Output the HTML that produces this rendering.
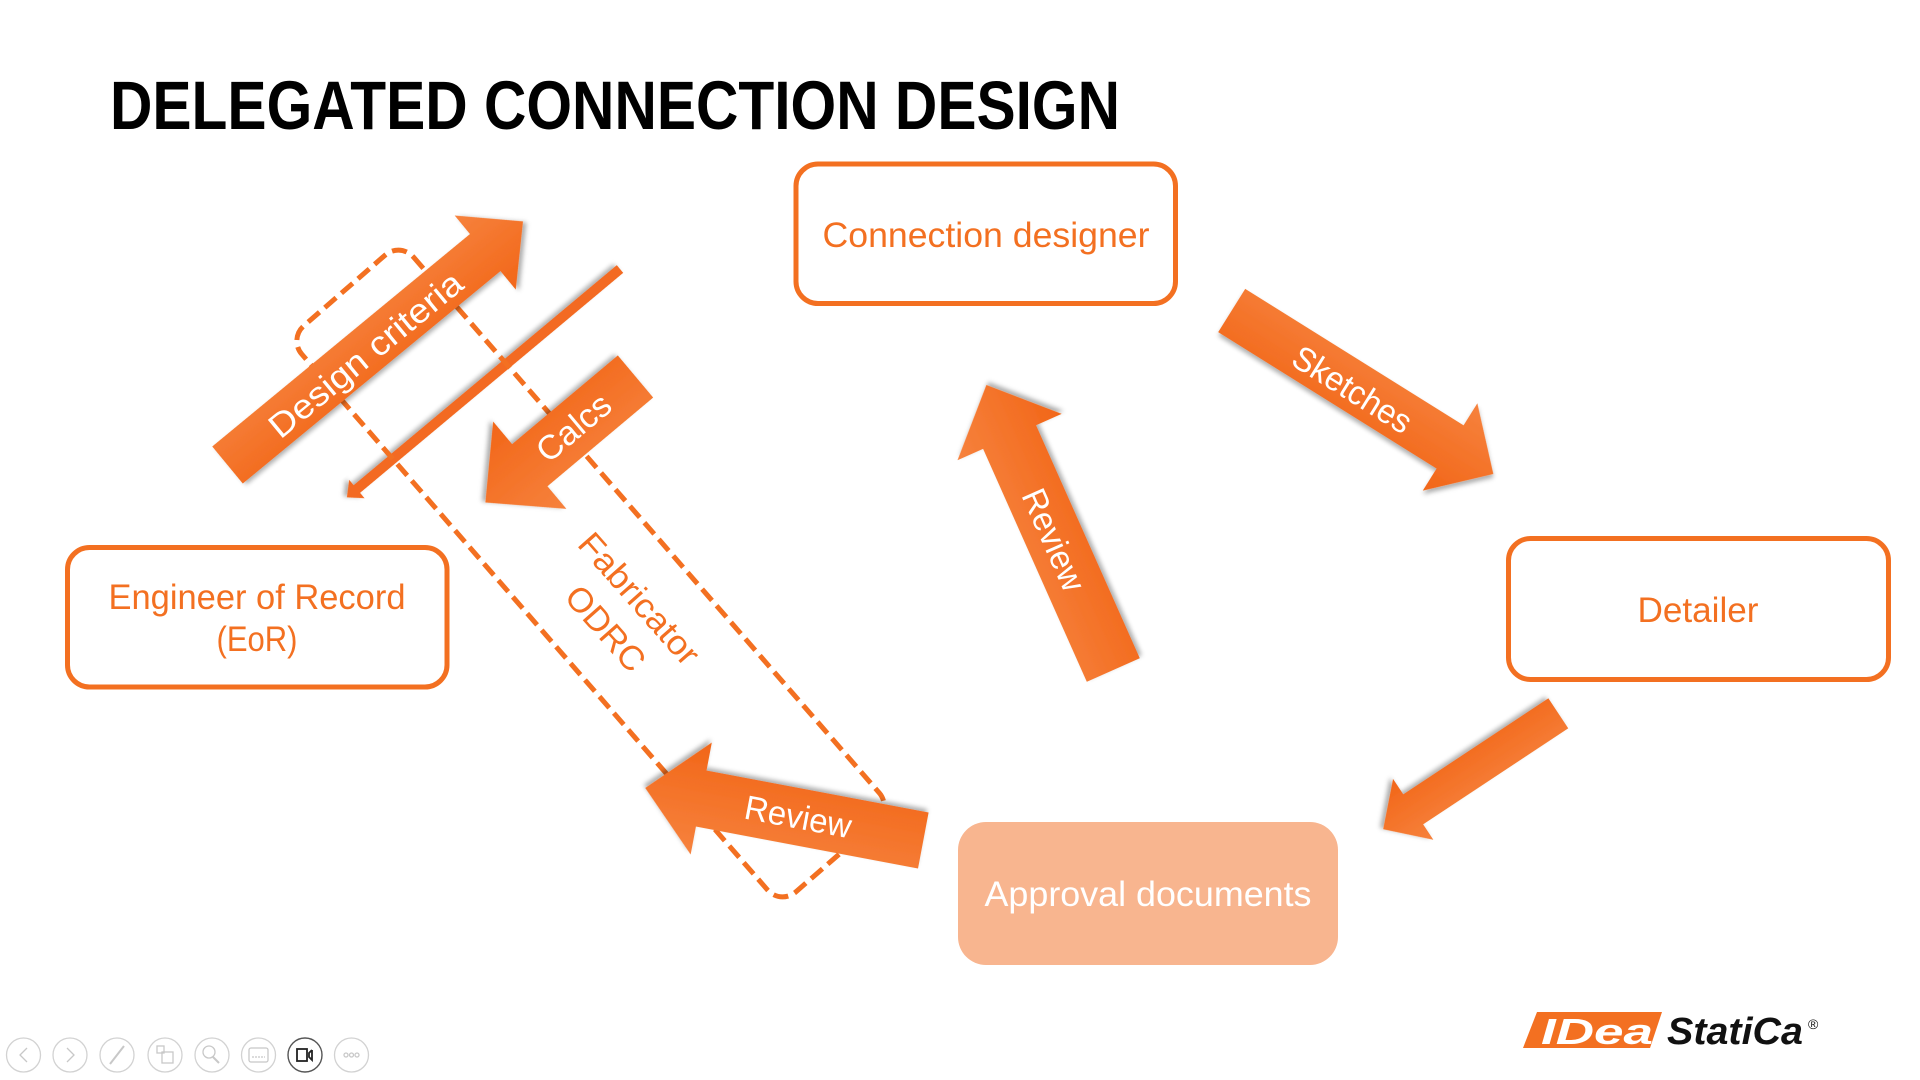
<!DOCTYPE html>
<html>
<head>
<meta charset="utf-8">
<style>
  html,body{margin:0;padding:0;background:#fff;}
  body{width:1920px;height:1080px;overflow:hidden;}
  svg{display:block;}
  text{font-family:"Liberation Sans", sans-serif;}
</style>
</head>
<body>
<svg width="1920" height="1080" viewBox="0 0 1920 1080" xmlns="http://www.w3.org/2000/svg">
  <defs>
    <filter id="sh" x="-20%" y="-20%" width="140%" height="140%">
      <feDropShadow dx="2" dy="3" stdDeviation="2.5" flood-color="#000" flood-opacity="0.32"/>
    </filter>
    <linearGradient id="g1" x1="0" y1="0" x2="0" y2="1">
      <stop offset="0" stop-color="#F6823D"/>
      <stop offset="1" stop-color="#F26618"/>
    </linearGradient>
  </defs>

  <!-- Title -->
  <text x="110" y="129" font-size="69" font-weight="bold" fill="#000" textLength="1010" lengthAdjust="spacingAndGlyphs">DELEGATED CONNECTION DESIGN</text>

  <!-- Boxes -->
  <rect x="796" y="164" width="379.5" height="139.5" rx="22" fill="#fff" stroke="#F37021" stroke-width="5"/>
  <text x="986" y="247" font-size="35" fill="#F37021" text-anchor="middle" textLength="327" lengthAdjust="spacingAndGlyphs">Connection designer</text>

  <rect x="67.5" y="547.5" width="379.5" height="139.5" rx="22" fill="#fff" stroke="#F37021" stroke-width="5"/>
  <text x="257" y="609" font-size="35" fill="#F37021" text-anchor="middle" textLength="297" lengthAdjust="spacingAndGlyphs">Engineer of Record</text>
  <text x="257" y="651" font-size="35" fill="#F37021" text-anchor="middle" textLength="81" lengthAdjust="spacingAndGlyphs">(EoR)</text>

  <rect x="1508.5" y="538.5" width="380" height="141" rx="22" fill="#fff" stroke="#F37021" stroke-width="5"/>
  <text x="1698" y="622" font-size="35" fill="#F37021" text-anchor="middle" textLength="121" lengthAdjust="spacingAndGlyphs">Detailer</text>

  <rect x="958" y="822" width="380" height="143" rx="28" fill="#F8B58F"/>
  <text x="1148" y="906" font-size="35" fill="#fff" text-anchor="middle" textLength="327" lengthAdjust="spacingAndGlyphs">Approval documents</text>

  <!-- Thin arrow (behind) -->
  <g transform="translate(620,269) rotate(140.1)" filter="url(#sh)">
    <polygon points="0,-5 343,-5 343,-12 356,0 343,12 343,5 0,5" fill="#F36B20"/>
  </g>

  <!-- Dashed Fabricator ODRC outline -->
  <rect x="-375" y="-74" width="750" height="148" rx="20" transform="translate(590.5,573.5) rotate(49)" fill="none" stroke="#F37021" stroke-width="5" stroke-dasharray="15 7"/>
  <g transform="translate(623,613) rotate(48.5)" fill="#F37021" font-size="34" text-anchor="middle">
    <text x="0" y="-10" textLength="164" lengthAdjust="spacingAndGlyphs">Fabricator</text>
    <text x="0" y="35" textLength="102" lengthAdjust="spacingAndGlyphs">ODRC</text>
  </g>

  <!-- Design criteria arrow -->
  <g transform="translate(227.5,465) rotate(-39.5)" filter="url(#sh)">
    <polygon points="0,-24 334,-24 334,-48 383,0 334,48 334,24 0,24" fill="url(#g1)"/>
  </g>
  <g transform="translate(366,355) rotate(-39.5)">
    <text x="0" y="11" font-size="34" fill="#fff" text-anchor="middle" textLength="240" lengthAdjust="spacingAndGlyphs">Design criteria</text>
  </g>

  <!-- Calcs arrow -->
  <g transform="translate(635.5,376.5) rotate(140)" filter="url(#sh)">
    <polygon points="0,-27.5 138,-27.5 138,-57 196,0 138,57 138,27.5 0,27.5" fill="url(#g1)"/>
  </g>
  <g transform="translate(574,428) rotate(-40)">
    <text x="0" y="11" font-size="34" fill="#fff" text-anchor="middle" textLength="86" lengthAdjust="spacingAndGlyphs">Calcs</text>
  </g>

  <!-- Review (left) arrow -->
  <g transform="translate(923.3,840.5) rotate(190.7)" filter="url(#sh)">
    <polygon points="0,-28.5 226,-28.5 226,-57 283,0 226,57 226,28.5 0,28.5" fill="url(#g1)"/>
  </g>
  <g transform="translate(798,817.5) rotate(10.7)">
    <text x="0" y="11" font-size="34" fill="#fff" text-anchor="middle" textLength="108" lengthAdjust="spacingAndGlyphs">Review</text>
  </g>

  <!-- Review (up) arrow -->
  <g transform="translate(1113.3,670) rotate(246)" filter="url(#sh)">
    <polygon points="0,-29 255,-29 255,-57 312,0 255,57 255,29 0,29" fill="url(#g1)"/>
  </g>
  <g transform="translate(1053,540) rotate(66)">
    <text x="0" y="11" font-size="34" fill="#fff" text-anchor="middle" textLength="108" lengthAdjust="spacingAndGlyphs">Review</text>
  </g>

  <!-- Sketches arrow -->
  <g transform="translate(1231.7,310.5) rotate(32)" filter="url(#sh)">
    <polygon points="0,-25.5 257.5,-25.5 257.5,-51.5 308.5,0 257.5,51.5 257.5,25.5 0,25.5" fill="url(#g1)"/>
  </g>
  <g transform="translate(1352,390) rotate(32)">
    <text x="0" y="11" font-size="34" fill="#fff" text-anchor="middle" textLength="134" lengthAdjust="spacingAndGlyphs">Sketches</text>
  </g>

  <!-- Detailer -> Approval arrow -->
  <g transform="translate(1558.3,713.3) rotate(146.5)" filter="url(#sh)">
    <polygon points="0,-18 174,-18 174,-36.5 210,0 174,36.5 174,18 0,18" fill="url(#g1)"/>
  </g>

  <!-- Logo -->
  <polygon points="1537,1012 1662,1012 1650,1048 1523,1048" fill="#F37021"/>
  <text x="1541" y="1044" font-size="36" font-weight="bold" font-style="italic" fill="#fff" textLength="112" lengthAdjust="spacingAndGlyphs">IDea</text>
  <text x="1667" y="1044" font-size="38" font-weight="bold" font-style="italic" fill="#111" textLength="136" lengthAdjust="spacingAndGlyphs">StatiCa</text>
  <text x="1808" y="1029" font-size="14" fill="#111">®</text>

  <!-- Toolbar -->
  <g fill="none" stroke="#d2d2d2" stroke-width="1.3">
    <circle cx="23.5" cy="1055" r="17"/>
    <circle cx="70" cy="1055" r="17"/>
    <circle cx="117" cy="1055" r="17"/>
    <circle cx="165" cy="1055" r="17"/>
    <circle cx="212" cy="1055" r="17"/>
    <circle cx="258.5" cy="1055" r="17"/>
    <circle cx="351.5" cy="1055" r="17"/>
    <polyline points="27,1048 20,1055 27,1062" stroke="#c8c8c8"/>
    <polyline points="67,1048 74,1055 67,1062" stroke="#c8c8c8"/>
    <line x1="110" y1="1064" x2="124" y2="1046" stroke="#c8c8c8" stroke-width="2"/>
    <rect x="157" y="1046" width="7" height="7" stroke="#c8c8c8"/>
    <rect x="162" y="1052" width="11" height="11" stroke="#c8c8c8"/>
    <circle cx="209" cy="1052" r="6" stroke="#c8c8c8"/>
    <line x1="213" y1="1057" x2="219" y2="1063" stroke="#c8c8c8" stroke-width="2"/>
    <rect x="249" y="1048" width="19" height="14" rx="2" stroke="#c8c8c8"/>
    <line x1="252" y1="1057" x2="265" y2="1057" stroke="#c8c8c8" stroke-dasharray="2 1"/>
    <circle cx="346" cy="1055" r="2" stroke="#c8c8c8"/>
    <circle cx="351.5" cy="1055" r="2" stroke="#c8c8c8"/>
    <circle cx="357" cy="1055" r="2" stroke="#c8c8c8"/>
  </g>
  <g fill="none" stroke="#555" stroke-width="1.4">
    <circle cx="305" cy="1055" r="17"/>
    <rect x="297" y="1049" width="10" height="12" stroke="#222" stroke-width="1.8"/>
    <polyline points="312,1050 309,1053 309,1057 312,1060 312,1050" stroke="#222" stroke-width="1.8"/>
  </g>
</svg>
</body>
</html>
